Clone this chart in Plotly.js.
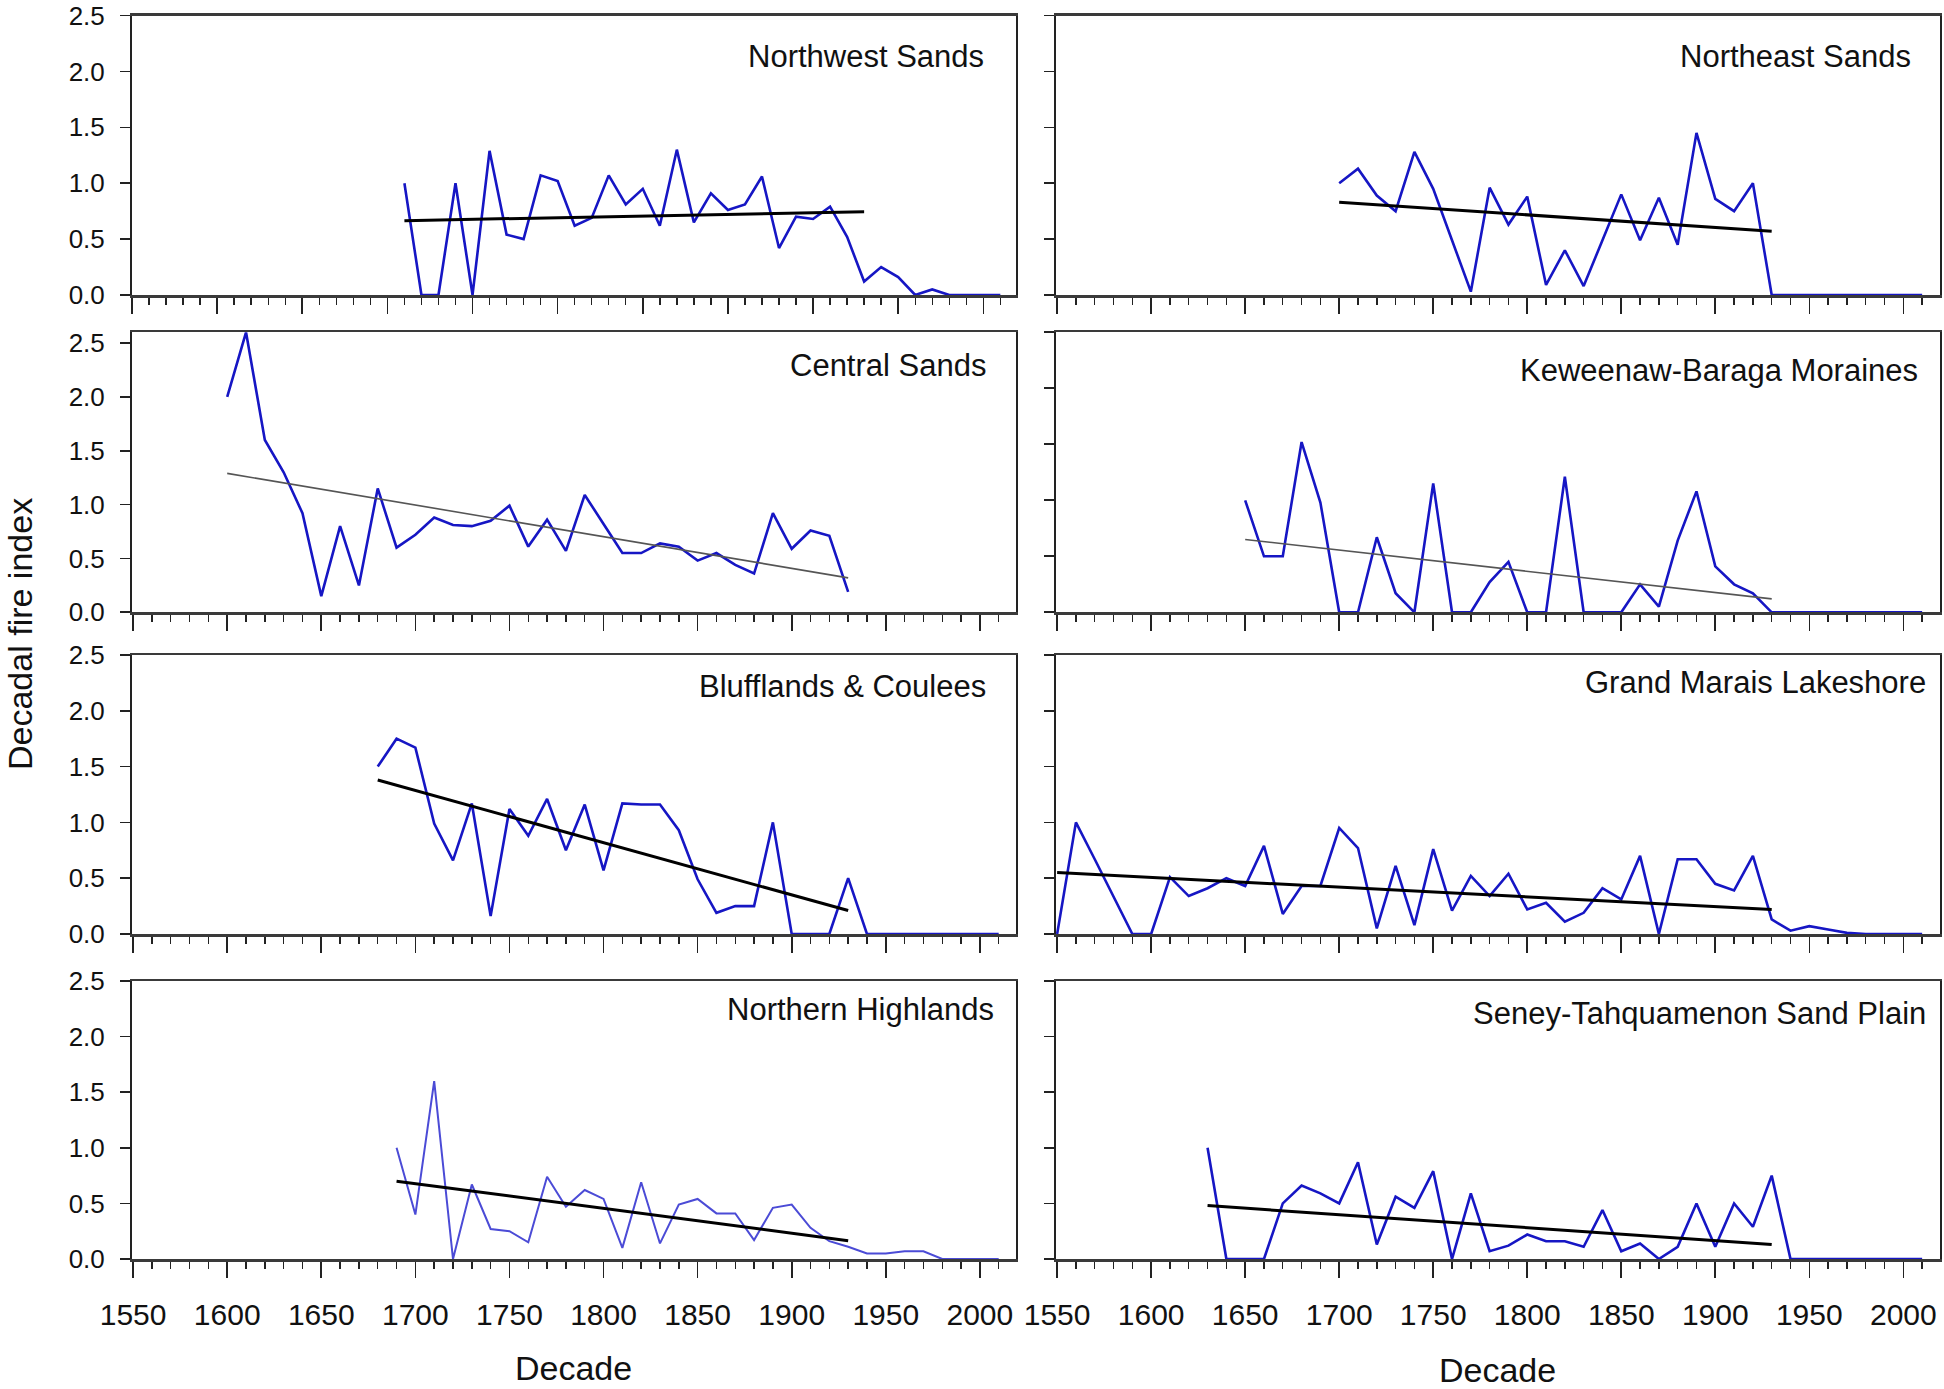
<!DOCTYPE html>
<html>
<head>
<meta charset="utf-8">
<script src="https://cdn.plot.ly/plotly-3.0.1.min.js"></script>
<style>
  html, body { margin: 0; padding: 0; background: #ffffff; }
  #chart { width: 1944px; height: 1389px; }
</style>
</head>
<body>
<div id="chart"></div>
<script>
// ---------------- DATA ----------------
const DECADES = [1550, 1560, 1570, 1580, 1590, 1600, 1610, 1620, 1630, 1640,
                 1650, 1660, 1670, 1680, 1690, 1700, 1710, 1720, 1730, 1740,
                 1750, 1760, 1770, 1780, 1790, 1800, 1810, 1820, 1830, 1840,
                 1850, 1860, 1870, 1880, 1890, 1900, 1910, 1920, 1930, 1940,
                 1950, 1960, 1970, 1980, 1990, 2000, 2010];

const TICK_YEARS = [1550, 1600, 1650, 1700, 1750, 1800, 1850, 1900, 1950, 2000];
const TICK_YEARS_TOPLEFT = [1500, 1550, 1600, 1650, 1700, 1750, 1800, 1850, 1900, 1950, 2000];
const Y_TICKS = [0, 0.5, 1.0, 1.5, 2.0, 2.5];

const PANEL_NAMES = ["Northwest Sands", "Northeast Sands", "Central Sands", "Keweenaw-Baraga Moraines",
                     "Blufflands & Coulees", "Grand Marais Lakeshore", "Northern Highlands",
                     "Seney-Tahquamenon Sand Plain"];

const nwSandsStart = 1660;
const nwSands = [1.0, 0, 0, 1.0, 0, 1.29, 0.54, 0.50, 1.07, 1.02, 0.62, 0.69, 1.07, 0.81, 0.95, 0.62,
                 1.30, 0.65, 0.91, 0.76, 0.81, 1.06, 0.42, 0.70, 0.68, 0.79, 0.52, 0.12, 0.25, 0.16,
                 0, 0.05, 0, 0, 0, 0];
const nwSandsTrendX = [1660, 1930];
const nwSandsTrendY = [0.665, 0.745];

const neSandsStart = 1700;
const neSands = [1.0, 1.13, 0.89, 0.75, 1.28, 0.95, 0.49, 0.03, 0.96, 0.63, 0.88, 0.09, 0.40, 0.08,
                 0.49, 0.90, 0.49, 0.87, 0.45, 1.45, 0.86, 0.75, 1.0, 0, 0, 0, 0, 0, 0, 0, 0, 0];
const neSandsTrendX = [1700, 1930];
const neSandsTrendY = [0.83, 0.57];

const centralSandsStart = 1600;
const centralSands = [2.0, 2.6, 1.6, 1.3, 0.92, 0.15, 0.80, 0.25, 1.15, 0.60, 0.72, 0.88, 0.81, 0.80,
                      0.85, 0.99, 0.61, 0.86, 0.57, 1.09, 0.82, 0.55, 0.55, 0.64, 0.61, 0.48, 0.55,
                      0.44, 0.36, 0.92, 0.59, 0.76, 0.71, 0.19];
const centralSandsTrendX = [1600, 1930];
const centralSandsTrendY = [1.29, 0.32];

const keweenawStart = 1650;
const keweenaw = [1.0, 0.5, 0.5, 1.52, 0.98, 0, 0, 0.67, 0.17, 0, 1.15, 0, 0, 0.27, 0.45, 0, 0, 1.21,
                  0, 0, 0, 0.25, 0.05, 0.64, 1.08, 0.41, 0.25, 0.17, 0, 0, 0, 0, 0, 0, 0, 0, 0];
const keweenawTrendX = [1650, 1930];
const keweenawTrendY = [0.65, 0.12];

const blufflandsStart = 1680;
const blufflands = [1.5, 1.75, 1.67, 0.99, 0.66, 1.17, 0.16, 1.12, 0.88, 1.21, 0.75, 1.16, 0.57, 1.17,
                    1.16, 1.16, 0.93, 0.49, 0.19, 0.25, 0.25, 1.0, 0, 0, 0, 0.5, 0, 0, 0, 0, 0, 0, 0, 0];
const blufflandsTrendX = [1680, 1930];
const blufflandsTrendY = [1.38, 0.21];

const grandMaraisStart = 1550;
const grandMarais = [0, 1.0, 0.67, 0.33, 0, 0, 0.51, 0.34, 0.41, 0.50, 0.43, 0.79, 0.18, 0.43, 0.43,
                     0.95, 0.77, 0.05, 0.61, 0.08, 0.76, 0.21, 0.52, 0.34, 0.54, 0.22, 0.28, 0.11, 0.19,
                     0.41, 0.31, 0.70, 0, 0.67, 0.67, 0.45, 0.39, 0.70, 0.13, 0.03, 0.07, 0.04, 0.01,
                     0, 0, 0, 0];
const grandMaraisTrendX = [1550, 1930];
const grandMaraisTrendY = [0.55, 0.22];

const northernHighlandsStart = 1690;
const northernHighlands = [1.0, 0.4, 1.6, 0, 0.67, 0.27, 0.25, 0.15, 0.74, 0.47, 0.62, 0.54, 0.10, 0.69,
                           0.14, 0.49, 0.54, 0.41, 0.41, 0.17, 0.46, 0.49, 0.28, 0.16, 0.11, 0.05, 0.05,
                           0.07, 0.07, 0, 0, 0, 0];
const northernHighlandsTrendX = [1690, 1930];
const northernHighlandsTrendY = [0.70, 0.165];

const seneyStart = 1630;
const seney = [1.0, 0, 0, 0, 0.5, 0.66, 0.59, 0.5, 0.87, 0.13, 0.56, 0.46, 0.79, 0, 0.59, 0.07, 0.12,
               0.22, 0.16, 0.16, 0.11, 0.44, 0.07, 0.14, 0, 0.11, 0.5, 0.11, 0.5, 0.29, 0.75,
               0, 0, 0, 0, 0, 0, 0, 0];
const seneyTrendX = [1630, 1930];
const seneyTrendY = [0.48, 0.13];

// ---------------- BUILD ----------------
function yearsFor(start, vals) {
  const i0 = DECADES.indexOf(start);
  return DECADES.slice(i0, i0 + vals.length);
}

const W = 1944, H = 1389;
const FONT = "Liberation Sans, Arial, sans-serif";
const BLUE = "#1616c4";

// panel geometry in pixels (left, right, top, bottom)
const COLS = [[132, 1016], [1056, 1940]];
const ROWS = [[15.5, 295], [332.3, 612.3], [655, 934], [981, 1259]];

const panels = [
  {name: PANEL_NAMES[0], start: nwSandsStart, vals: nwSands, tx: nwSandsTrendX, ty: nwSandsTrendY, col: 0, row: 0, trend: "heavy", xr: [1500, 2019.2], ticks: TICK_YEARS_TOPLEFT, ymax: 2.5, lx: 0.966, ly: 0.852},
  {name: PANEL_NAMES[1], start: neSandsStart, vals: neSands, tx: neSandsTrendX, ty: neSandsTrendY, col: 1, row: 0, trend: "heavy", xr: [1549.4, 2019.5], ticks: TICK_YEARS, ymax: 2.5, lx: 0.969, ly: 0.855},
  {name: PANEL_NAMES[2], start: centralSandsStart, vals: centralSands, tx: centralSandsTrendX, ty: centralSandsTrendY, col: 0, row: 1, trend: "light", xr: [1549.4, 2019.2], ticks: TICK_YEARS, ymax: 2.6, lx: 0.968, ly: 0.882},
  {name: PANEL_NAMES[3], start: keweenawStart, vals: keweenaw, tx: keweenawTrendX, ty: keweenawTrendY, col: 1, row: 1, trend: "light", xr: [1549.4, 2019.5], ticks: TICK_YEARS, ymax: 2.5, lx: 0.977, ly: 0.864},
  {name: PANEL_NAMES[4], start: blufflandsStart, vals: blufflands, tx: blufflandsTrendX, ty: blufflandsTrendY, col: 0, row: 2, trend: "heavy", xr: [1549.4, 2019.2], ticks: TICK_YEARS, ymax: 2.5, lx: 0.968, ly: 0.886},
  {name: PANEL_NAMES[5], start: grandMaraisStart, vals: grandMarais, tx: grandMaraisTrendX, ty: grandMaraisTrendY, col: 1, row: 2, trend: "heavy", xr: [1549.4, 2019.5], ticks: TICK_YEARS, ymax: 2.5, lx: 0.986, ly: 0.9},
  {name: PANEL_NAMES[6], start: northernHighlandsStart, vals: northernHighlands, tx: northernHighlandsTrendX, ty: northernHighlandsTrendY, col: 0, row: 3, trend: "heavy", xr: [1549.4, 2019.2], ticks: TICK_YEARS, ymax: 2.5, lx: 0.977, ly: 0.896, light: true},
  {name: PANEL_NAMES[7], start: seneyStart, vals: seney, tx: seneyTrendX, ty: seneyTrendY, col: 1, row: 3, trend: "heavy", xr: [1549.4, 2019.5], ticks: TICK_YEARS, ymax: 2.5, lx: 0.986, ly: 0.882}
];

const traces = [];
const layout = {
  width: W, height: H, autosize: false,
  margin: {l: 0, r: 0, t: 0, b: 0, pad: 0},
  paper_bgcolor: "#ffffff", plot_bgcolor: "#ffffff",
  showlegend: false,
  font: {family: FONT, color: "#111111"},
  annotations: []
};

panels.forEach((p, i) => {
  const n = i + 1;
  const xa = "x" + (n === 1 ? "" : n);
  const ya = "y" + (n === 1 ? "" : n);
  const xk = "xaxis" + (n === 1 ? "" : n);
  const yk = "yaxis" + (n === 1 ? "" : n);
  const [cl, cr] = COLS[p.col];
  const [rt, rb] = ROWS[p.row];
  const bottomRow = p.row === 3;
  const leftCol = p.col === 0;

  traces.push({
    x: yearsFor(p.start, p.vals), y: p.vals, xaxis: xa, yaxis: ya,
    type: "scatter", mode: "lines", hoverinfo: "skip",
    line: {color: p.light ? "#4b4bd6" : BLUE, width: p.light ? 2 : 2.6}
  });
  traces.push({
    x: p.tx, y: p.ty, xaxis: xa, yaxis: ya,
    type: "scatter", mode: "lines", hoverinfo: "skip",
    line: p.trend === "heavy" ? {color: "#000000", width: 3} : {color: "#555555", width: 1.6}
  });

  layout[xk] = {
    domain: [cl / W, cr / W],
    anchor: ya,
    range: p.xr,
    tickmode: "array",
    tickvals: p.ticks,
    ticktext: p.ticks.map(String),
    showticklabels: bottomRow,
    ticks: "outside", ticklen: 16, tickwidth: 1.6, tickcolor: "#222222",
    minor: {dtick: 10, tick0: 1500, ticks: "outside", ticklen: 7, tickwidth: 1.4, tickcolor: "#222222", showgrid: false},
    ticklabelstandoff: 11,
    tickfont: {family: FONT, size: 30, color: "#111111"},
    showline: true, linecolor: "#3a3a3a", linewidth: 2.5, mirror: true,
    showgrid: false, zeroline: false, fixedrange: true
  };
  layout[yk] = {
    domain: [1 - rb / H, 1 - rt / H],
    anchor: xa,
    range: [0, p.ymax],
    tickmode: "array",
    tickvals: Y_TICKS,
    ticktext: Y_TICKS.map(v => v.toFixed(1)),
    showticklabels: leftCol,
    ticks: "outside", ticklen: 10, tickwidth: 1.6, tickcolor: "#222222",
    ticklabelstandoff: 10,
    tickfont: {family: FONT, size: 26, color: "#111111"},
    showline: true, linecolor: "#222222", linewidth: 2, mirror: true,
    showgrid: false, zeroline: false, fixedrange: true
  };
  layout.annotations.push({
    text: p.name, xref: xa + " domain", yref: ya + " domain",
    x: p.lx, y: p.ly, xanchor: "right", yanchor: "middle", showarrow: false,
    font: {family: FONT, size: 31, color: "#111111"}
  });
});

// shared axis titles
layout.annotations.push({
  text: "Decadal fire index", xref: "paper", yref: "paper",
  x: 20 / W, y: 1 - 634 / H, xanchor: "center", yanchor: "middle",
  textangle: -90, showarrow: false,
  font: {family: FONT, size: 34, color: "#111111"}
});
layout.annotations.push({
  text: "Decade", xref: "paper", yref: "paper",
  x: 573 / W, y: 1 - 1368 / H, xanchor: "center", yanchor: "middle",
  showarrow: false, font: {family: FONT, size: 34, color: "#111111"}
});
layout.annotations.push({
  text: "Decade", xref: "paper", yref: "paper",
  x: 1497 / W, y: 1 - 1370 / H, xanchor: "center", yanchor: "middle",
  showarrow: false, font: {family: FONT, size: 34, color: "#111111"}
});

Plotly.newPlot("chart", traces, layout, {staticPlot: true, displayModeBar: false});
</script>
</body>
</html>
